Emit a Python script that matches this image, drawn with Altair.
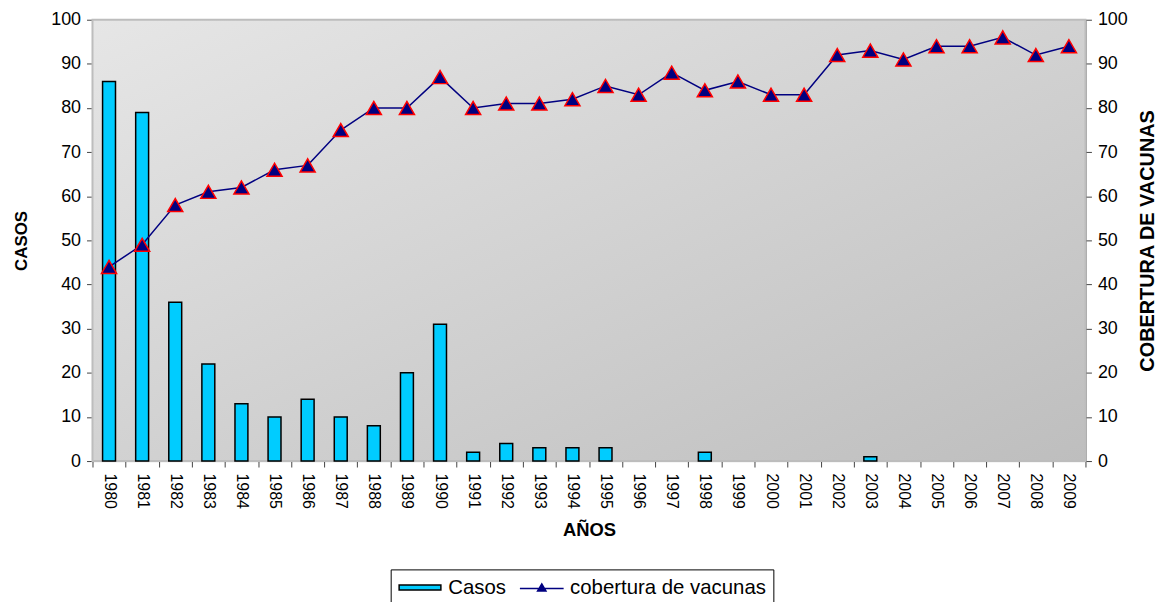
import altair as alt
import pandas as pd

years = [str(y) for y in range(1980, 2010)]
casos = [86, 79, 36, 22, 13, 10, 14, 10, 8, 20, 31, 2, 4, 3, 3, 3, 0, 0, 2, 0,
         0, 0, 0, 1, 0, 0, 0, 0, 0, 0]
cobertura = [44, 49, 58, 61, 62, 66, 67, 75, 80, 80, 87, 80, 81, 81, 82, 85, 83, 88, 84, 86,
             83, 83, 92, 93, 91, 94, 94, 96, 92, 94]
series_names = ["Casos", "cobertura de vacunas"]

df = pd.DataFrame({"anio": years, "casos": casos, "cobertura": cobertura})
df_bar = df.assign(serie=series_names[0])
df_line = df.assign(serie=series_names[1])

FONT = "Liberation Sans"
W, H = 999, 444

x_enc = alt.X(
    "anio:N",
    sort=years,
    scale=alt.Scale(paddingInner=0, paddingOuter=0),
    axis=alt.Axis(
        title="AÑOS", labelAngle=90, labelAlign="left", labelBaseline="middle",
        tickBand="extent", labelFontSize=16, titleFontSize=18.5, titleFontWeight="bold",
        labelColor="black", titleColor="black", domainColor="#444", tickColor="#444",
        tickSize=6, labelPadding=6, titlePadding=12, grid=False,
    ),
)

fill_scale = alt.Scale(domain=series_names, range=["#00CCFF", "#000080"])
stroke_scale = alt.Scale(domain=series_names, range=["black", "#000080"])

shape_expr = ("datum.value === 'Casos' ? 'M-2.1,-0.25H2.1V0.25H-2.1Z' : "
              "'M-2.2,0.1H2.2M0,-0.36L0.42,0.34L-0.42,0.34Z'")

legend = alt.Legend(
    title=None, orient="none", legendX=300, legendY=553, direction="horizontal",
    strokeColor="black", fillColor="white", padding=7, labelFontSize=20.5,
    labelColor="black", symbolSize=400, columnPadding=9.5, labelOffset=17.5,
    symbolOffset=11.5, labelFont=FONT, symbolStrokeWidth=1.5, symbolOpacity=1,
    labelLimit=400,
    symbolType=alt.ExprRef(shape_expr),
)

background = alt.Chart(pd.DataFrame({"bg": [0]})).mark_rect(
    fill=alt.LinearGradient(
        gradient="linear", x1=0, y1=0, x2=1, y2=1,
        stops=[alt.GradientStop(color="#E6E6E6", offset=0),
               alt.GradientStop(color="#BEBEBE", offset=1)],
    ),
    stroke="#BDBDBD", strokeWidth=2,
).encode(x=alt.value(0), x2=alt.value(W), y=alt.value(0), y2=alt.value(H))

bars = alt.Chart(df_bar).transform_filter("datum.casos > 0").mark_bar(
    size=13, strokeWidth=1.5
).encode(
    x=x_enc,
    y=alt.Y(
        "casos:Q",
        scale=alt.Scale(domain=[0, 100]),
        axis=alt.Axis(
            title="CASOS", orient="left", values=list(range(0, 101, 10)), grid=False,
            labelFontSize=18, titleFontSize=17, titleFontWeight="bold",
            labelColor="black", titleColor="black", domainColor="#444", tickColor="#444",
            tickSize=6, labelPadding=6, titlePadding=20,
        ),
    ),
    color=alt.Color("serie:N", scale=fill_scale, legend=legend),
    stroke=alt.Stroke("serie:N", scale=stroke_scale, legend=legend),
)

right_axis = alt.Axis(
    title="COBERTURA DE VACUNAS", orient="right", values=list(range(0, 101, 10)),
    grid=False, labelFontSize=18, titleFontSize=20, titleFontWeight="bold",
    titleAngle=270, labelColor="black", titleColor="black",
    domainColor="#444", tickColor="#444", tickSize=6, labelPadding=6,
    titlePadding=30,
)

line = alt.Chart(df_line).mark_line(strokeWidth=1.5).encode(
    x=x_enc,
    y=alt.Y("cobertura:Q", scale=alt.Scale(domain=[0, 100]), axis=right_axis),
    stroke=alt.Stroke("serie:N", scale=stroke_scale, legend=legend),
)

points = alt.Chart(df_line).mark_point(
    shape="triangle-up", size=230, filled=True, fill="#000080", stroke="red",
    strokeWidth=1.5, opacity=1,
).encode(
    x=x_enc,
    y=alt.Y("cobertura:Q", scale=alt.Scale(domain=[0, 100]), axis=right_axis),
)

right = alt.layer(line, points)

chart = alt.layer(background, bars, right).resolve_scale(y="independent").properties(
    width=W,
    height=H,
    autosize=alt.AutoSizeParams(type="none"),
    padding={"left": 85, "top": 10, "right": 78, "bottom": 140},
).configure_view(
    stroke=None,
).configure(font=FONT, background="white")

chart.save("out.html", embed_options={"renderer": "svg", "actions": False})
